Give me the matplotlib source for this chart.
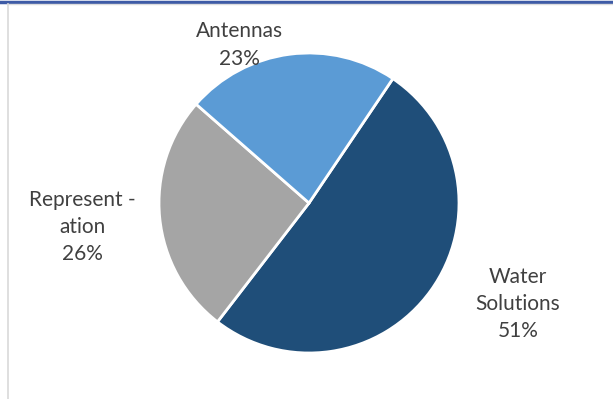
import matplotlib.pyplot as plt
from matplotlib.lines import Line2D

# Slice data, clockwise from the top-right
labels = ["Water\nSolutions", "Represent -\nation", "Antennas"]
shares = [51, 26, 23]
colors = ["#1F4E79", "#A5A5A5", "#5B9BD5"]
label_pos = [(518, 304), (82, 227), (239, 45)]  # pixel centres of the labels

W, H = 613, 399
fig = plt.figure(figsize=(W / 100, H / 100), dpi=100)

# pie sits in a square axes centred at (309, 203) px with radius 150 px
cx, cy, r = 309, 203, 150
ax = fig.add_axes([(cx - r) / W, (H - cy - r) / H, 2 * r / W, 2 * r / H])
ax.pie(
    shares,
    colors=colors,
    startangle=56,
    counterclock=False,
    radius=1,
    wedgeprops=dict(edgecolor="white", linewidth=2),
)
ax.set_xlim(-1, 1)
ax.set_ylim(-1, 1)
ax.set_aspect("equal")
ax.axis("off")

for lab, val, (px, py) in zip(labels, shares, label_pos):
    fig.text(
        px / W,
        1 - py / H,
        f"{lab}\n{val}%",
        ha="center",
        va="center",
        fontsize=15,
        family="Lato",
        color="#404040",
        linespacing=1.45,
    )

# frame bits: blue bar at top, grey edges
fig.add_artist(Line2D([0, 1], [1 - 1.5 / H, 1 - 1.5 / H], color="#3E5BA6", linewidth=2.5))
fig.add_artist(Line2D([0.012, 1], [1 - 4 / H, 1 - 4 / H], color="#DDDDDD", linewidth=1))
fig.add_artist(Line2D([7.5 / W, 7.5 / W], [0, 1 - 4 / H], color="#D9D9D9", linewidth=1.2))

fig.savefig("out.png", dpi=100)
